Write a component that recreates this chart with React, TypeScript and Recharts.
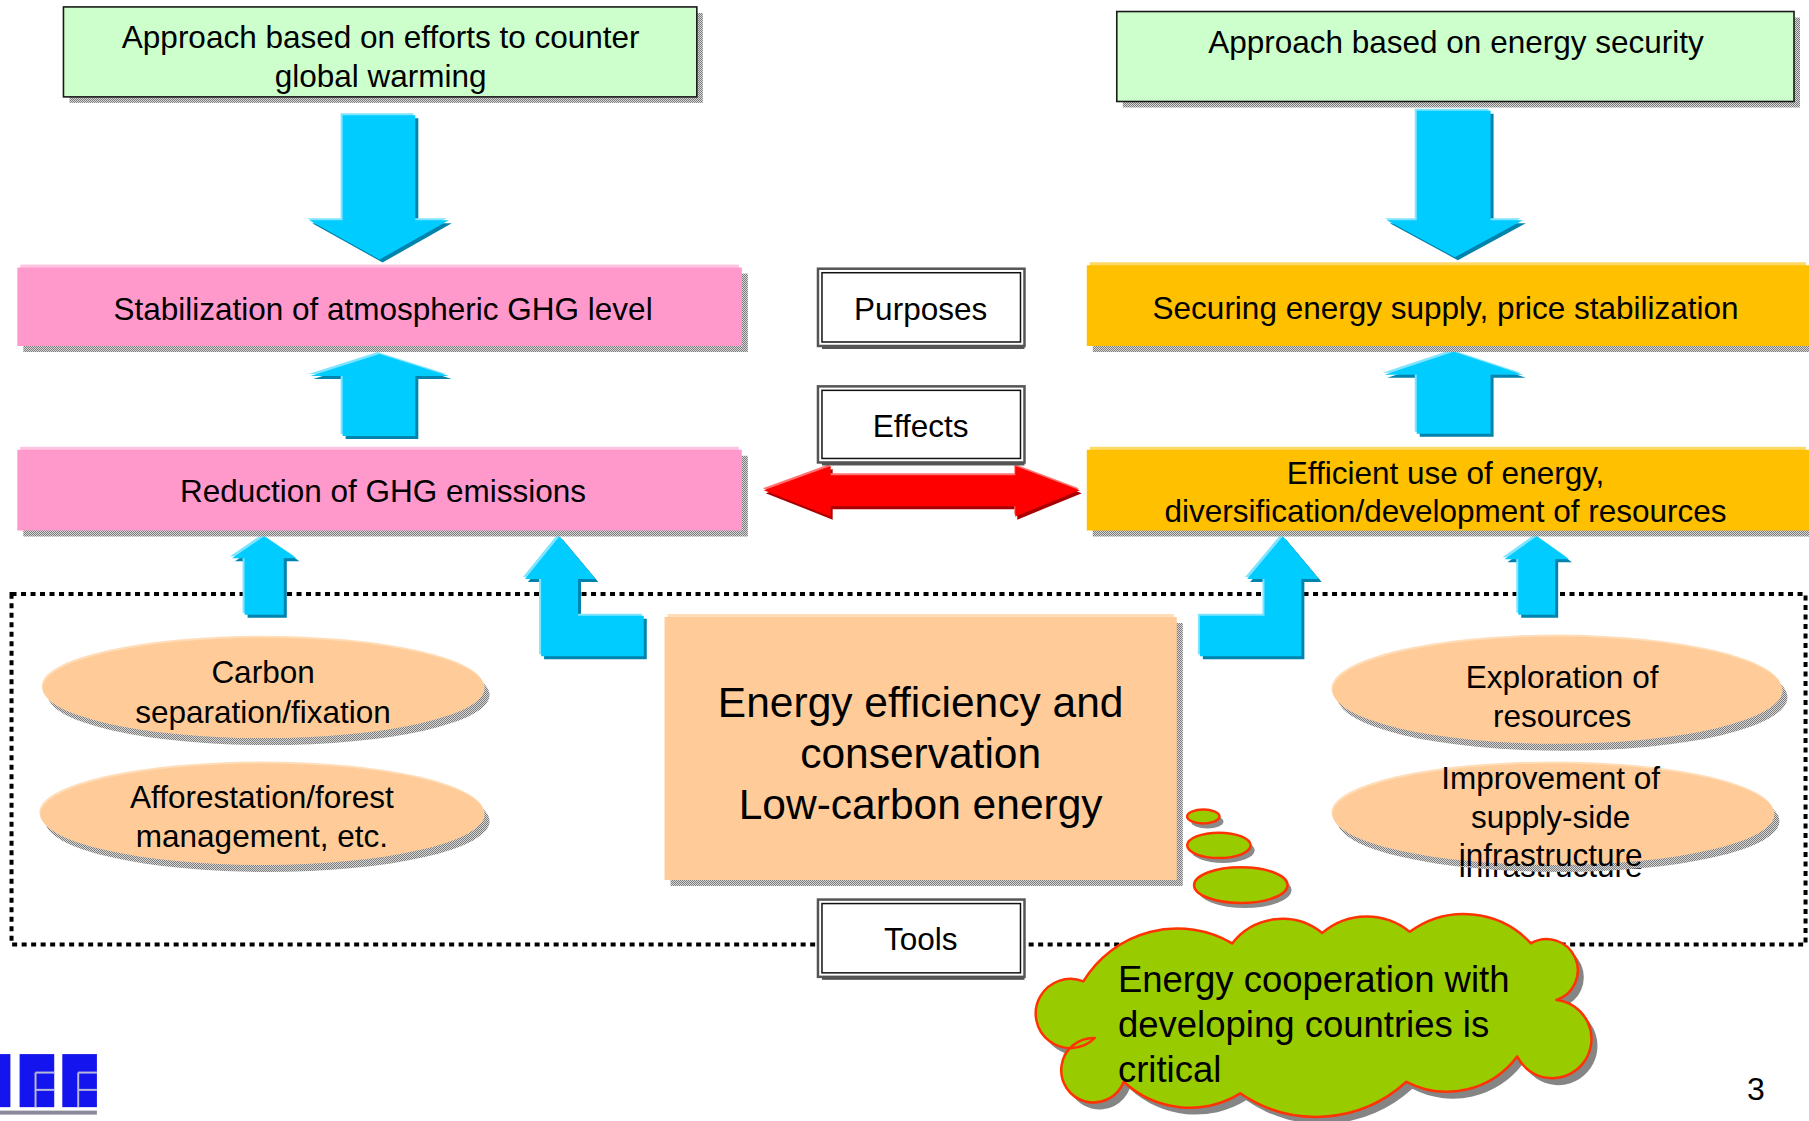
import React from "react";
import { ScatterChart, XAxis, YAxis, ReferenceArea } from "recharts";

if (typeof document !== "undefined") document.body.style.margin = "0";

// ---- texts ----
const approachLabels = [
  ["Approach based on efforts to counter", "global warming"],
  ["Approach based on energy security"],
];
const purposeLabels = [
  ["Stabilization of atmospheric GHG level"],
  ["Securing energy supply, price stabilization"],
];
const effectLabels = [
  ["Reduction of GHG emissions"],
  ["Efficient use of energy,", "diversification/development of resources"],
];
const roleLabels = ["Purposes", "Effects", "Tools"];
const toolLabels = ["Energy efficiency and", "conservation", "Low-carbon energy"];
const leftMeasureLabels = [
  ["Carbon", "separation/fixation"],
  ["Afforestation/forest", "management, etc."],
];
const rightMeasureLabels = [
  ["Exploration of", "resources"],
  ["Improvement of", "supply-side", "infrastructure"],
];
const cooperationLabels = ["Energy cooperation with", "developing countries is", "critical"];
const pageNumber = "3";

// ---- layout, in slide units (1568 x 972) ----
const W = 1809;
const H = 1121;
const SW = 1568;
const SH = 972;
const FONT = "'Liberation Sans', Arial, Helvetica, sans-serif";

type Area = { x1: number; x2: number; y1: number; y2: number };
type Px = { x: number; y: number; width: number; height: number };
type Box = Area & { fill: string; cx: number; ys: number[] };

const approachBoxes: Box[] = [
  { x1: 55, x2: 604, y1: 6, y2: 84, fill: "#CCFFCC", cx: 330, ys: [32, 66] },
  { x1: 968, x2: 1555, y1: 10, y2: 88, fill: "#CCFFCC", cx: 1262, ys: [36] },
];
const purposeBoxes: Box[] = [
  { x1: 15, x2: 643, y1: 232, y2: 300, fill: "#FF99CC", cx: 332, ys: [268] },
  { x1: 942, x2: 1568, y1: 230, y2: 300, fill: "#FFC000", cx: 1253, ys: [267] },
];
const effectBoxes: Box[] = [
  { x1: 15, x2: 643, y1: 390, y2: 460, fill: "#FF99CC", cx: 332, ys: [426] },
  { x1: 942, x2: 1568, y1: 390, y2: 460, fill: "#FFC000", cx: 1253, ys: [410, 443] },
];
const roleBoxes: Box[] = [
  { x1: 709, x2: 888, y1: 233, y2: 300, fill: "#FFFFFF", cx: 798, ys: [268] },
  { x1: 709, x2: 888, y1: 335, y2: 401, fill: "#FFFFFF", cx: 798, ys: [369] },
  { x1: 709, x2: 888, y1: 780, y2: 847, fill: "#FFFFFF", cx: 798, ys: [814] },
];
const toolBox: Box = { x1: 576, x2: 1020, y1: 535, y2: 763, fill: "#FFCC99", cx: 798, ys: [609, 653, 698] };
const leftEllipses: Box[] = [
  { x1: 37, x2: 420, y1: 553, y2: 640, fill: "#FFCC99", cx: 228, ys: [583, 617] },
  { x1: 35, x2: 420, y1: 662, y2: 750, fill: "#FFCC99", cx: 227, ys: [691, 725] },
];
const rightEllipses: Box[] = [
  { x1: 1155, x2: 1545, y1: 552, y2: 645, fill: "#FFCC99", cx: 1354, ys: [587, 621] },
  { x1: 1155, x2: 1538, y1: 662, y2: 750, fill: "#FFCC99", cx: 1344, ys: [675, 708, 741] },
];
const toolsFrame: Area = { x1: 10, x2: 1565, y1: 515, y2: 819 };

const blueArrows: number[][][] = [
  [[297, 100], [360, 100], [360, 191], [389, 191], [329, 225], [268, 191], [297, 191]],
  [[1228, 96], [1292, 96], [1292, 191], [1320, 191], [1261, 223], [1202, 191], [1228, 191]],
  [[329, 307], [389, 326], [360, 326], [360, 378], [297, 378], [297, 326], [269, 326]],
  [[1260, 305], [1320, 325], [1292, 325], [1292, 376], [1228, 376], [1228, 325], [1200, 325]],
  [[229, 465], [257, 484], [246, 484], [246, 533], [212, 533], [212, 484], [201, 484]],
  [[1332, 465], [1360, 485], [1348, 485], [1348, 533], [1316, 533], [1316, 485], [1304, 485]],
  [[485, 465], [516, 502], [501, 502], [501, 534], [558, 534], [558, 569], [469, 569], [469, 502], [455, 502]],
  [[1112, 465], [1143, 502], [1128, 502], [1128, 569], [1040, 569], [1040, 534], [1096, 534], [1096, 502], [1081, 502]],
];
const redArrow: number[][] = [
  [662, 425], [720, 404], [720, 412], [880, 412], [880, 404], [936, 425], [880, 448], [880, 439], [720, 439], [720, 448],
];
const bubbles: Area[] = [
  { x1: 1029, x2: 1057, y1: 702, y2: 714 },
  { x1: 1029, x2: 1084, y1: 722, y2: 744 },
  { x1: 1035, x2: 1116, y1: 752, y2: 783 },
];
const cloudArea: Area = { x1: 880, x2: 1400, y1: 780, y2: 980 };
// cusp points of the cloud outline, each with the radius / large-arc flag of the bump that reaches it
const cloudStart = [949, 900];
const cloudArcs: number[][] = [
  [939, 851, 30, 1],
  [1068, 818, 95, 0],
  [1146, 809, 55, 0],
  [1222, 808, 59, 0],
  [1327, 818, 79, 0],
  [1349, 867, 27, 1],
  [1315, 916, 34, 1],
  [1219, 938, 76, 0],
  [1075, 948, 116, 0],
  [974, 938, 84, 0],
  [949, 900, 28, 1],
];
const cloudTextAt = { x: 969, ys: [849, 888, 927] };
const logoArea: Area = { x1: 0, x2: 84, y1: 914, y2: 962 };
const pageArea: Area = { x1: 1500, x2: 1545, y1: 925, y2: 965 };

// ---- helpers ----
const mapper = (p: Px, a: Area) => {
  const kx = p.width / (a.x2 - a.x1);
  const ky = p.height / (a.y2 - a.y1);
  return {
    x: (u: number) => p.x + (u - a.x1) * kx,
    y: (v: number) => p.y + (v - a.y1) * ky,
    k: kx,
  };
};
type M = ReturnType<typeof mapper>;

const bounds = (pts: number[][]): Area => ({
  x1: Math.min(...pts.map((q) => q[0])),
  x2: Math.max(...pts.map((q) => q[0])),
  y1: Math.min(...pts.map((q) => q[1])),
  y2: Math.max(...pts.map((q) => q[1])),
});

const pointsOf = (m: M, pts: number[][]) => pts.map(([u, v]) => `${m.x(u)},${m.y(v)}`).join(" ");

const textLines = (m: M, lines: string[], cx: number, ys: number[], size: number, anchor = "middle", dy = 0) =>
  lines.map((t, i) => (
    <text
      key={i}
      x={m.x(cx)}
      y={m.y(ys[i]) + dy}
      textAnchor={anchor}
      dominantBaseline="central"
      fontFamily={FONT}
      fontSize={size}
      fill="#000"
    >
      {t}
    </text>
  ));

const area = (key: string, a: Area, draw: (m: M, p: Px) => React.ReactNode) => (
  <ReferenceArea
    key={key}
    x1={a.x1}
    x2={a.x2}
    y1={a.y1}
    y2={a.y2}
    ifOverflow="visible"
    shape={(p: any) => <g>{draw(mapper(p, a), p)}</g>}
  />
);

const Dither = () => (
  <defs>
    <pattern id="dither" width="2" height="2" patternUnits="userSpaceOnUse">
      <rect width="2" height="2" fill="#d8d8d8" />
      <rect width="1" height="1" fill="#7a7a7a" />
      <rect x="1" y="1" width="1" height="1" fill="#7a7a7a" />
    </pattern>
  </defs>
);

const rectBox = (b: Box, lines: string[], size: number, stroke?: string, bevel?: string) => (m: M, p: Px) => (
  <>
    <rect x={p.x + 6} y={p.y + 6} width={p.width} height={p.height} fill="url(#dither)" />
    {bevel && <rect x={p.x + 3} y={p.y - 3} width={p.width - 6} height={p.height} fill={bevel} />}
    <rect x={p.x} y={p.y} width={p.width} height={p.height} fill={b.fill} stroke={stroke ?? "none"} strokeWidth={1.6} />
    {textLines(m, lines, b.cx, b.ys, size)}
  </>
);

const roleBox = (b: Box, label: string) => (m: M, p: Px) => (
  <>
    <rect x={p.x + 4} y={p.y + p.height} width={p.width - 4} height={3} fill="#555" />
    <rect x={p.x} y={p.y} width={p.width} height={p.height} fill="#fff" stroke="#555" strokeWidth={2.5} />
    <rect x={p.x + 4} y={p.y + 4} width={p.width - 8} height={p.height - 8} fill="none" stroke="#111" strokeWidth={1.5} />
    {textLines(m, [label], b.cx, b.ys, 31.5)}
  </>
);

const ellipseBox = (b: Box, lines: string[], ghost = false) => (m: M, p: Px) => {
  const cx = p.x + p.width / 2;
  const cy = p.y + p.height / 2;
  return (
    <>
      {ghost && (
        <text x={m.x(b.cx)} y={m.y(b.ys[b.ys.length - 1]) + 11} textAnchor="middle" dominantBaseline="central" fontFamily={FONT} fontSize={31.5}>
          {lines[lines.length - 1]}
        </text>
      )}
      <ellipse cx={cx + 5} cy={cy + 7} rx={p.width / 2} ry={p.height / 2} fill="url(#dither)" />
      <ellipse cx={cx - 1} cy={cy - 2} rx={p.width / 2} ry={p.height / 2} fill="#FFDDB8" />
      <ellipse cx={cx} cy={cy} rx={p.width / 2} ry={p.height / 2} fill={b.fill} />
      {textLines(m, lines, b.cx, b.ys, 31.5)}
    </>
  );
};

const blueArrow = (pts: number[][]) => (m: M) => {
  const s = pointsOf(m, pts);
  return (
    <>
      <polygon points={s} transform="translate(3,3)" fill="#0083AD" />
      <polygon points={s} transform="translate(-2,-2)" fill="#80E4FF" />
      <polygon points={s} fill="#00CCFF" />
    </>
  );
};

const cloudPath = (m: M) =>
  `M${m.x(cloudStart[0])},${m.y(cloudStart[1])} ` +
  cloudArcs.map(([u, v, r, large]) => `A${r * m.k},${r * m.k} 0 ${large} 1 ${m.x(u)},${m.y(v)}`).join(" ") +
  " Z";

export default function App() {
  const [lb, rb] = approachBoxes;
  return (
    <div style={{ width: W, height: H, background: "#fff" }}>
      <ScatterChart width={W} height={H} margin={{ top: 0, right: 0, bottom: 0, left: 0 }}>
        <XAxis type="number" dataKey="x" domain={[0, SW]} allowDataOverflow hide />
        <YAxis type="number" dataKey="y" domain={[0, SH]} allowDataOverflow reversed hide />

        {area("frame", toolsFrame, (_m, p) => (
          <>
            <Dither />
            <rect x={p.x} y={p.y} width={p.width} height={p.height} fill="none" stroke="#000" strokeWidth={4} strokeDasharray="5 4.5" />
          </>
        ))}

        {blueArrows.map((pts, i) => area(`blue${i}`, bounds(pts), blueArrow(pts)))}

        {area("red", bounds(redArrow), (m) => {
          const s = pointsOf(m, redArrow);
          return (
            <>
              <polygon points={s} transform="translate(2,3)" fill="#A80000" />
              <polygon points={s} transform="translate(-1,-2)" fill="#FF7373" />
              <polygon points={s} fill="#FF0000" />
            </>
          );
        })}

        {area("appL", lb, rectBox(lb, approachLabels[0], 31.5, "#1a1a1a"))}
        {area("appR", rb, rectBox(rb, approachLabels[1], 31.5, "#1a1a1a"))}
        {purposeBoxes.map((b, i) => area(`pur${i}`, b, rectBox(b, purposeLabels[i], 31.5, undefined, i === 0 ? "#FFC2E0" : "#FFD966")))}
        {effectBoxes.map((b, i) => area(`eff${i}`, b, rectBox(b, effectLabels[i], 31.5, undefined, i === 0 ? "#FFC2E0" : "#FFD966")))}
        {area("tool", toolBox, rectBox(toolBox, toolLabels, 42.5, undefined, "#FFDDB8"))}

        {leftEllipses.map((b, i) => area(`le${i}`, b, ellipseBox(b, leftMeasureLabels[i])))}
        {rightEllipses.map((b, i) => area(`re${i}`, b, ellipseBox(b, rightMeasureLabels[i], i === 1)))}

        {roleBoxes.map((b, i) => area(`role${i}`, b, roleBox(b, roleLabels[i])))}

        {bubbles.map((b, i) =>
          area(`bub${i}`, b, (_m, p) => (
            <>
              <ellipse cx={p.x + p.width / 2 + 4} cy={p.y + p.height / 2 + 5} rx={p.width / 2} ry={p.height / 2} fill="#8a8a8a" />
              <ellipse cx={p.x + p.width / 2} cy={p.y + p.height / 2} rx={p.width / 2} ry={p.height / 2} fill="#99CC00" stroke="#FF3300" strokeWidth={2.5} />
            </>
          ))
        )}

        {area("cloud", cloudArea, (m) => {
          const d = cloudPath(m);
          return (
            <>
              <path d={d} transform="translate(6,7)" fill="#858585" />
              <path d={d} fill="#99CC00" stroke="#FF3300" strokeWidth={2.5} strokeLinejoin="round" />
              {textLines(m, cooperationLabels, cloudTextAt.x, cloudTextAt.ys, 36.5, "start")}
            </>
          );
        })}

        {area("logo", logoArea, (m) => {
          const blue = "#1414EE";
          const e = (x1: number, x2: number) => {
            const mid = x1 + (x2 - x1) * 0.46;
            return (
              <g key={x1}>
                <rect x={m.x(x1)} y={m.y(914)} width={m.x(x2) - m.x(x1)} height={m.y(960) - m.y(914)} fill={blue} />
                <line x1={m.x(mid)} x2={m.x(mid)} y1={m.y(930)} y2={m.y(960)} stroke="#b8b8d8" strokeWidth={2} />
                <line x1={m.x(mid)} x2={m.x(x2)} y1={m.y(930)} y2={m.y(930)} stroke="#b8b8d8" strokeWidth={2} />
                <line x1={m.x(mid)} x2={m.x(x2)} y1={m.y(945)} y2={m.y(945)} stroke="#b8b8d8" strokeWidth={2} />
              </g>
            );
          };
          return (
            <>
              <rect x={m.x(0)} y={m.y(914)} width={m.x(9) - m.x(0)} height={m.y(960) - m.y(914)} fill={blue} />
              {e(17, 47)}
              {e(54, 84)}
              <rect x={m.x(0)} y={m.y(963)} width={m.x(84) - m.x(0)} height={4} fill="#8a8a9a" />
            </>
          );
        })}

        {area("page", pageArea, (m) => textLines(m, [pageNumber], 1522, [944], 32))}
      </ScatterChart>
    </div>
  );
}
